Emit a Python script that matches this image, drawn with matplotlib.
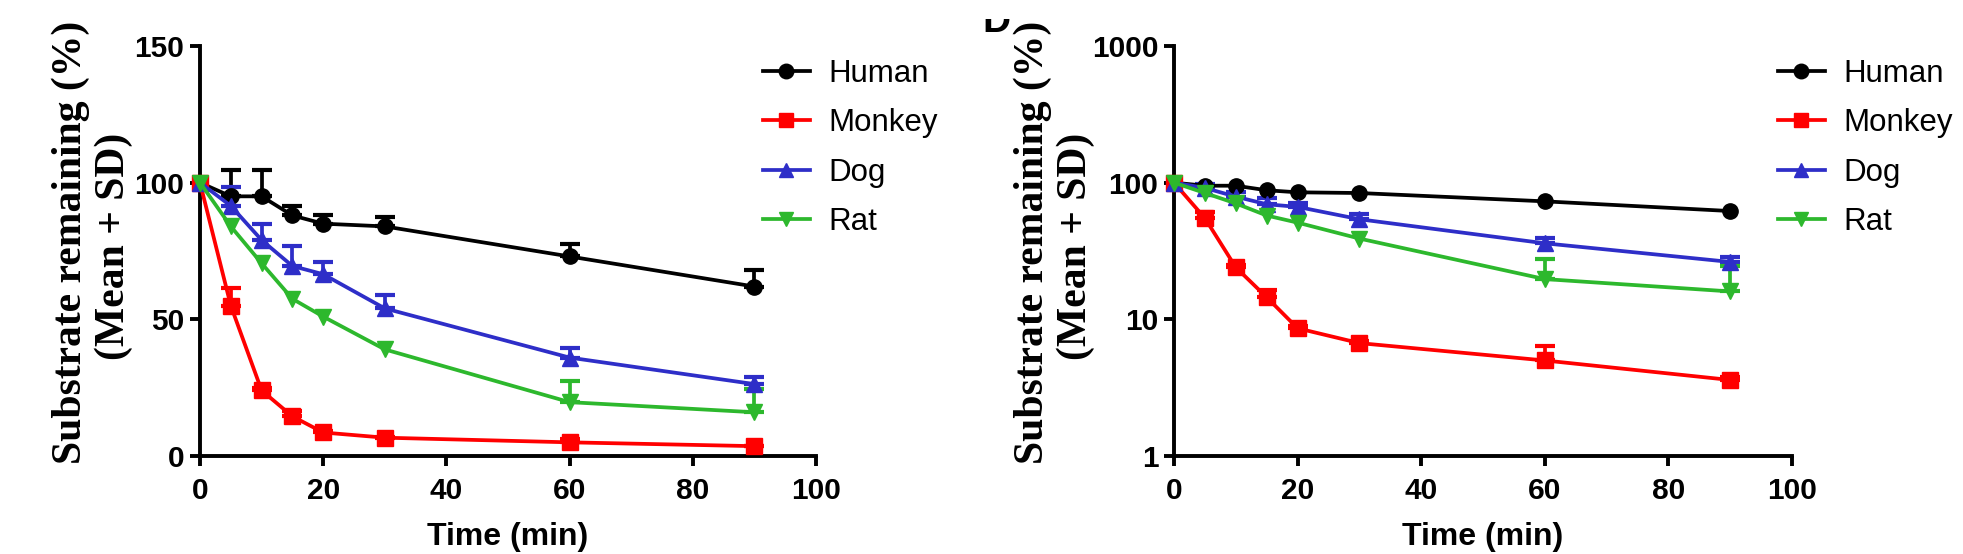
import numpy as np
import matplotlib
matplotlib.use("Agg")
import matplotlib.pyplot as plt
from matplotlib.transforms import Bbox, TransformedBbox

# ---------------- data ----------------
time_min = [0, 5, 10, 15, 20, 30, 60, 90]
species = ["Human", "Monkey", "Dog", "Rat"]
human_mean = [100, 95, 95, 88, 85, 84, 73, 62]
human_sd = [0, 9.5, 9.5, 3.5, 3.0, 3.5, 4.5, 6.0]
monkey_mean = [100, 55, 24, 14.5, 8.6, 6.7, 5.0, 3.6]
monkey_sd = [0, 6.5, 1.0, 2.0, 0.4, 0.3, 1.4, 0.2]
dog_mean = [100, 91.5, 79, 69.5, 66.5, 54, 36, 26.3]
dog_sd = [0, 7.0, 6.0, 7.5, 4.5, 5.0, 3.5, 2.5]
rat_mean = [100, 84, 70.5, 57.5, 51, 39, 19.7, 16]
rat_sd = [0, 0, 0, 0, 0, 0, 7.8, 8.5]
# error bars shown on the log panel (human SD hidden behind markers there)
log_panel_errors = [False, True, True, True]

x_ticks = [0, 20, 40, 60, 80, 100]
y_ticks_lin = [0, 50, 100, 150]
y_ticks_log = [1, 10, 100, 1000]

colors = ["#000000", "#FF0000", "#2E2EC8", "#2DB82D"]
markers = ["o", "s", "^", "v"]

W, H = 1963, 554
fig = plt.figure(figsize=(W / 100, H / 100), dpi=100)

def fx(px):
    return px / W

def fy(py):
    return 1 - py / H

SANS = ["Liberation Sans", "DejaVu Sans"]
SERIF = ["Liberation Serif", "DejaVu Serif"]

ax1 = fig.add_axes([fx(200), fy(456), fx(816) - fx(200), fy(46) - fy(456)])
ax2 = fig.add_axes([fx(1174), fy(456), fx(1792) - fx(1174), fy(46) - fy(456)])

means = [human_mean, monkey_mean, dog_mean, rat_mean]
sds = [human_sd, monkey_sd, dog_sd, rat_sd]

for ax, logy in [(ax1, False), (ax2, True)]:
    t = np.array(time_min, dtype=float)
    for i, (name, m, s, c, mk) in enumerate(zip(species, means, sds, colors, markers)):
        m = np.array(m, dtype=float)
        s = np.array(s, dtype=float)
        sel = s > 0
        if sel.any() and (not logy or log_panel_errors[i]):
            ax.errorbar(t[sel], m[sel], yerr=[np.zeros(sel.sum()), s[sel]],
                        fmt="none", ecolor=c, elinewidth=2.7, capsize=7.5,
                        capthick=3.0, clip_on=False, zorder=2)
        ax.plot(t, m, color=c, marker=mk, markersize=11, linewidth=2.7,
                label=name, clip_on=False, zorder=3)
    ax.set_xlim(0, 100)
    ax.set_xticks(x_ticks)
    ax.set_xticklabels([str(v) for v in x_ticks])
    if logy:
        ax.set_yscale("log")
        ax.set_ylim(1, 1000)
        ax.set_yticks(y_ticks_log)
        ax.set_yticklabels([str(v) for v in y_ticks_log])
        ax.yaxis.set_minor_locator(matplotlib.ticker.NullLocator())
    else:
        ax.set_ylim(0, 150)
        ax.set_yticks(y_ticks_lin)
        ax.set_yticklabels([str(v) for v in y_ticks_lin])
    for sp in ["top", "right"]:
        ax.spines[sp].set_visible(False)
    for sp in ["left", "bottom"]:
        ax.spines[sp].set_linewidth(2.8)
    ax.tick_params(axis="both", which="major", length=7.2, width=2.8,
                   direction="out", pad=4)
    ax.tick_params(axis="x", pad=8)
    for lab in ax.get_xticklabels() + ax.get_yticklabels():
        lab.set_fontfamily(SANS)
        lab.set_fontweight("bold")
        lab.set_fontsize(21.5)
    ax.set_xlabel("Time (min)", fontsize=23, fontweight="bold",
                  family=SANS, va="center")
    ax.xaxis.set_label_coords(0.5, -0.197)
    ax.patch.set_alpha(0)

# legends
for ax, lx in [(ax1, 763), (ax2, 1778)]:
    leg = ax.legend(loc="upper left", bbox_to_anchor=(fx(lx), fy(59)),
                    bbox_transform=fig.transFigure, frameon=False,
                    prop={"family": SANS, "size": 22.5}, handlelength=1.5,
                    handletextpad=0.6, labelspacing=0.62, borderpad=0,
                    borderaxespad=0, markerscale=0.95)

# y labels (two lines each)
for x1, x2 in [(71, 114), (1033, 1076)]:
    fig.text(fx(x1), fy(242), "Substrate remaining (%)", rotation=90,
             ha="center", va="center", fontsize=30, fontweight="bold",
             family=SERIF)
    fig.text(fx(x2), fy(246), "(Mean + SD)", rotation=90,
             ha="center", va="center", fontsize=30, fontweight="bold",
             family=SERIF)

# partially hidden panel letter fragment
frag = fig.text(fx(982), fy(32), "D", ha="left", va="baseline",
                fontsize=28, fontweight="bold", family=SANS)
frag.set_clip_box(TransformedBbox(Bbox([[fx(975), fy(34)], [fx(1010), fy(19)]]),
                                  fig.transFigure))
frag.set_clip_on(True)

fig.savefig("out.png", dpi=100)
